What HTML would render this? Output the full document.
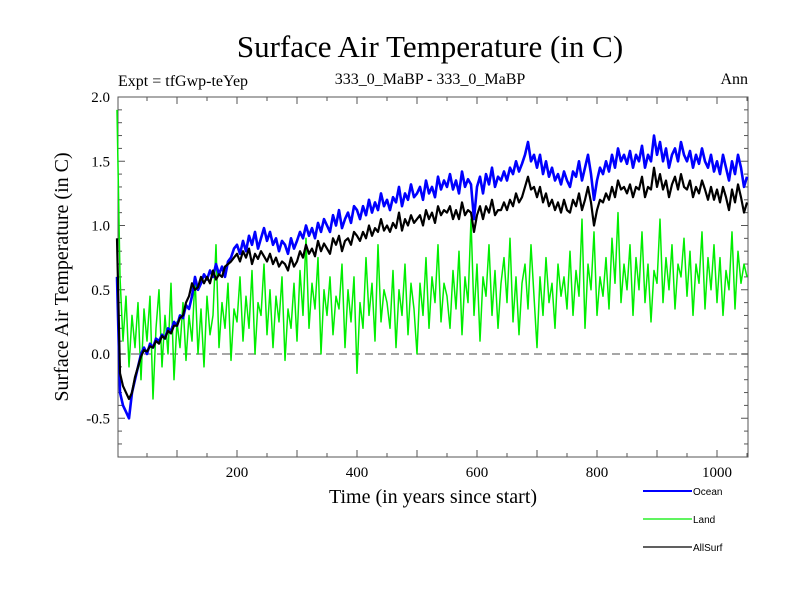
<!DOCTYPE html>
<html><head><meta charset="utf-8"><style>
body{margin:0;background:#fff}
svg{display:block}
text{font-family:"Liberation Serif",serif}
</style></head><body>
<svg id="chart" width="800" height="600" viewBox="0 0 800 600">
<text x="430" y="57" font-size="31" text-anchor="middle">Surface Air Temperature (in C)</text>
<text x="118" y="86" font-size="16">Expt = tfGwp-teYep</text>
<text x="430" y="84" font-size="16" text-anchor="middle">333_0_MaBP - 333_0_MaBP</text>
<text x="748" y="84" font-size="16" text-anchor="end">Ann</text>
<text transform="translate(68,277) rotate(-90)" font-size="20" text-anchor="middle">Surface Air Temperature (in C)</text>
<text x="433" y="503" font-size="20" text-anchor="middle">Time (in years since start)</text>
<g id="axes"></g>
<g id="series"></g>
<g id="legend">
<g><line x1="643" y1="491" x2="692" y2="491" stroke="#0000ff" stroke-width="2"/><text x="693" y="495" font-size="10" style="font-family:'Liberation Sans',sans-serif">Ocean</text></g>
<g><line x1="643" y1="519" x2="692" y2="519" stroke="#00ee00" stroke-width="1.3"/><text x="693" y="523" font-size="10" style="font-family:'Liberation Sans',sans-serif">Land</text></g>
<g><line x1="643" y1="547" x2="692" y2="547" stroke="#000" stroke-width="1.3"/><text x="693" y="551" font-size="10" style="font-family:'Liberation Sans',sans-serif">AllSurf</text></g>
</g>
</svg>
<script>
const yearStep = 5;
const ocean = [0.6,-0.3,-0.4,-0.45,-0.5,-0.3,-0.2,-0.1,0.0,0.05,
0.0,0.08,0.05,0.12,0.1,0.15,0.12,0.2,0.18,0.25,
0.22,0.3,0.28,0.38,0.35,0.45,0.6,0.5,0.55,0.62,
0.58,0.65,0.6,0.7,0.62,0.68,0.6,0.72,0.75,0.82,
0.85,0.78,0.88,0.8,0.92,0.85,0.95,0.82,0.9,0.98,
0.88,0.95,0.85,0.9,0.8,0.88,0.85,0.78,0.9,0.82,
0.88,0.95,0.9,1.0,0.92,0.98,0.9,1.02,0.95,1.05,
1.0,0.95,1.08,1.0,1.12,0.98,1.05,1.1,1.02,1.15,
1.12,1.05,1.15,1.08,1.2,1.1,1.18,1.12,1.25,1.15,
1.2,1.12,1.22,1.18,1.3,1.15,1.25,1.2,1.32,1.22,
1.25,1.3,1.2,1.35,1.25,1.3,1.22,1.38,1.28,1.35,
1.3,1.4,1.28,1.35,1.25,1.42,1.3,1.36,1.32,1.05,
1.3,1.38,1.25,1.4,1.32,1.45,1.3,1.38,1.35,1.42,
1.35,1.45,1.4,1.5,1.42,1.48,1.55,1.65,1.5,1.55,
1.45,1.55,1.4,1.5,1.38,1.45,1.35,1.4,1.32,1.42,
1.35,1.3,1.42,1.38,1.5,1.35,1.45,1.55,1.4,1.2,
1.35,1.45,1.4,1.5,1.42,1.55,1.45,1.6,1.5,1.55,
1.48,1.58,1.45,1.55,1.5,1.62,1.45,1.55,1.5,1.7,
1.55,1.65,1.5,1.6,1.45,1.55,1.6,1.5,1.65,1.55,
1.5,1.58,1.45,1.55,1.48,1.6,1.5,1.45,1.55,1.42,
1.5,1.4,1.55,1.45,1.35,1.5,1.4,1.55,1.45,1.3,
1.38];
const allSurf = [0.9,-0.15,-0.25,-0.3,-0.35,-0.3,-0.18,-0.1,-0.02,0.03,
0.02,0.06,0.05,0.1,0.08,0.14,0.12,0.18,0.16,0.22,
0.22,0.28,0.3,0.4,0.45,0.55,0.5,0.52,0.6,0.55,
0.6,0.55,0.65,0.58,0.62,0.6,0.68,0.7,0.72,0.75,
0.78,0.72,0.8,0.75,0.82,0.7,0.78,0.74,0.8,0.76,
0.72,0.78,0.7,0.75,0.68,0.72,0.7,0.65,0.75,0.68,
0.72,0.8,0.75,0.85,0.78,0.82,0.76,0.88,0.8,0.86,
0.82,0.78,0.9,0.85,0.92,0.8,0.88,0.9,0.85,0.95,
0.92,0.88,0.95,0.9,1.0,0.92,0.98,0.95,1.05,0.96,
1.0,0.95,1.02,0.98,1.1,0.96,1.05,1.0,1.08,1.02,
1.05,1.08,1.0,1.12,1.05,1.1,1.02,1.15,1.08,1.12,
1.1,1.15,1.05,1.12,1.05,1.18,1.08,1.12,1.1,0.95,
1.08,1.15,1.05,1.15,1.1,1.2,1.08,1.12,1.12,1.18,
1.12,1.2,1.15,1.25,1.18,1.22,1.3,1.38,1.28,1.3,
1.22,1.3,1.18,1.25,1.15,1.2,1.12,1.18,1.1,1.2,
1.12,1.1,1.2,1.15,1.25,1.12,1.2,1.3,1.18,1.0,
1.12,1.2,1.18,1.25,1.2,1.3,1.22,1.35,1.28,1.3,
1.25,1.32,1.22,1.3,1.28,1.38,1.22,1.3,1.28,1.45,
1.3,1.4,1.28,1.35,1.22,1.32,1.38,1.28,1.4,1.3,
1.28,1.35,1.22,1.3,1.25,1.35,1.28,1.2,1.3,1.2,
1.28,1.18,1.3,1.22,1.12,1.28,1.18,1.32,1.22,1.1,
1.18];
const land = [1.9,0.6,0.1,0.45,-0.1,0.3,0.05,0.4,-0.2,0.35,
0.1,0.45,-0.35,0.2,0.5,-0.1,0.3,0.0,0.55,-0.2,
0.25,0.05,0.4,-0.05,0.3,0.1,0.6,0.0,0.35,-0.1,
0.45,0.15,0.3,0.85,0.05,0.4,0.2,0.55,-0.05,0.35,
0.25,0.6,0.1,0.45,0.2,0.65,0.0,0.4,0.3,0.7,
0.15,0.5,0.05,0.45,0.25,0.6,-0.05,0.35,0.2,0.55,
0.1,0.65,0.3,0.9,0.2,0.55,0.35,0.75,0.0,0.5,
0.3,0.6,0.15,0.45,0.35,0.7,0.05,0.5,0.25,0.6,
-0.15,0.4,0.2,0.75,0.3,0.55,0.1,0.85,0.25,0.5,
0.4,0.2,0.65,0.05,0.5,0.3,0.7,0.15,0.55,0.35,
0.0,0.55,0.3,0.75,0.2,0.6,0.4,0.85,0.25,0.55,
0.45,0.2,0.65,0.35,0.8,0.15,0.6,0.4,1.05,0.3,
0.7,0.1,0.6,0.45,0.85,0.3,0.65,0.2,0.55,0.75,
0.4,0.9,0.25,0.6,0.15,0.55,0.7,0.35,0.85,0.45,
0.05,0.6,0.3,0.75,0.4,0.55,0.2,0.7,0.45,0.6,
0.35,0.8,0.3,0.65,0.45,1.05,0.2,0.7,0.5,0.95,
0.3,0.6,0.45,0.75,0.35,0.9,0.55,1.1,0.4,0.7,
0.5,0.85,0.3,0.75,0.5,0.95,0.4,0.7,0.25,0.65,
0.55,1.05,0.4,0.75,0.5,0.85,0.35,0.7,0.6,0.9,
0.45,0.8,0.3,0.7,0.55,0.95,0.35,0.75,0.5,0.85,
0.4,0.75,0.3,0.65,0.5,0.95,0.35,0.8,0.55,0.7,
0.6];
const xTickLabels = [200,400,600,800,1000];
const yTickLabels = [-0.5,0.0,0.5,1.0,1.5,2.0];

const NS="http://www.w3.org/2000/svg";
const L=118,R=748,T=97,B=457;
function sx(v){return 117+v*0.6;}
function sy(v){return 354-v*128.5;}
function mk(tag,attrs,parent){const e=document.createElementNS(NS,tag);for(const k in attrs)e.setAttribute(k,attrs[k]);parent.appendChild(e);return e;}
const axes=document.getElementById('axes');
const series=document.getElementById('series');

const z=mk('line',{x1:L,x2:R,y1:sy(0),y2:sy(0),stroke:'#888','stroke-width':1.5,'stroke-dasharray':'8,5'},axes);



function drawSeries(vals,color,w,name){
  let d='';
  vals.forEach((v,i)=>{d+=(i?'L':'M')+sx(i*yearStep).toFixed(1)+','+sy(v).toFixed(1);});
  const p=mk('path',{d:d,fill:'none',stroke:color,'stroke-width':w,'stroke-linejoin':'round'},series);
  
  
}
drawSeries(land,'#00ee00',1.5,'land-line');
drawSeries(ocean,'#0000ff',2.6,'ocean-line');
drawSeries(allSurf,'#000000',2.2,'allsurf-line');

const fr=mk('rect',{x:L,y:T,width:R-L,height:B-T,fill:'none',stroke:'#555','stroke-width':1},axes);



for(let v=50;v<=1050;v+=50){
  const major=v%100===0, len=major?7:4;
  mk('line',{x1:sx(v),x2:sx(v),y1:B,y2:B-len,stroke:'#555'},axes);
  mk('line',{x1:sx(v),x2:sx(v),y1:T,y2:T+len,stroke:'#555'},axes);
}
xTickLabels.forEach(v=>{
  const t=mk('text',{x:sx(v),y:B+20,'font-size':15,'text-anchor':'middle'},axes);
  t.textContent=v;
  
  
});
for(let k=-7;k<=20;k++){
  const v=k/10, major=k%5===0, len=major?7:4;
  mk('line',{x1:L,x2:L+len,y1:sy(v),y2:sy(v),stroke:'#555'},axes);
  mk('line',{x1:R,x2:R-len,y1:sy(v),y2:sy(v),stroke:'#555'},axes);
}
yTickLabels.forEach(v=>{
  const t=mk('text',{x:L-8,y:sy(v)+5,'font-size':15,'text-anchor':'end'},axes);
  t.textContent=v.toFixed(1);
  
  
});
</script>
</body></html>
